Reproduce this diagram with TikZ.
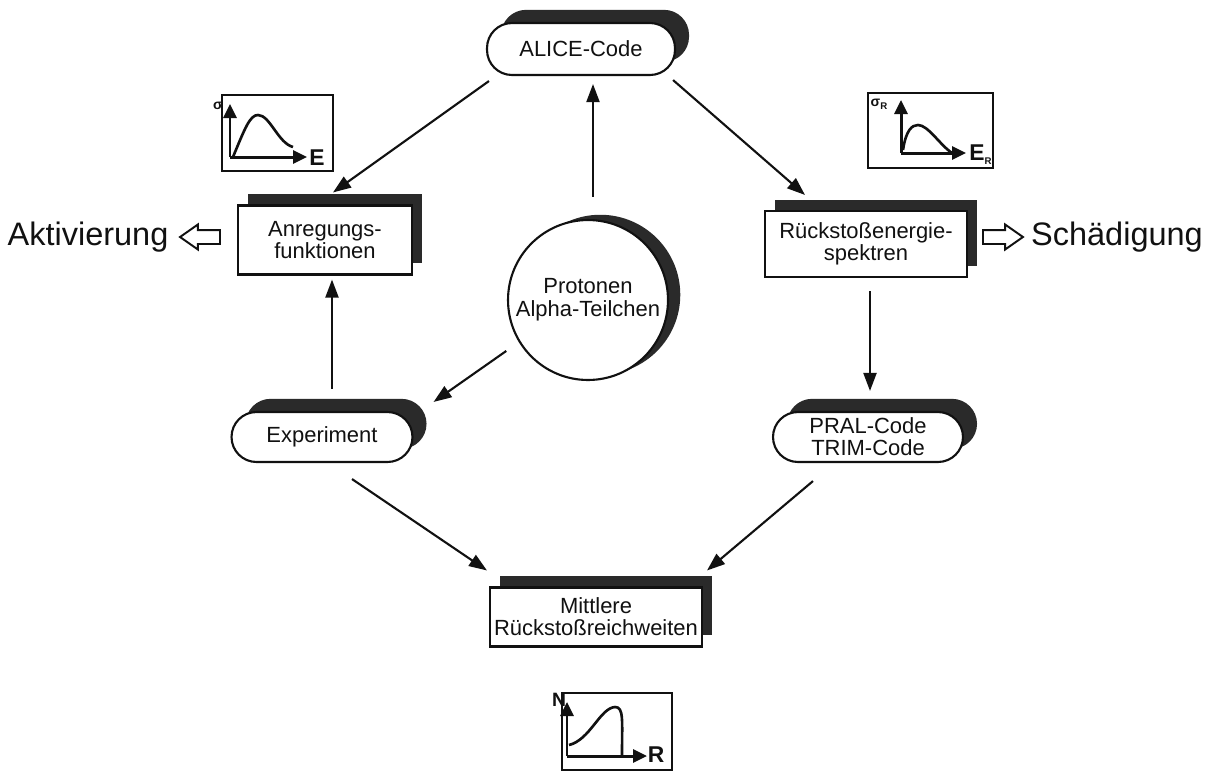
\documentclass[tikz,border=0pt]{standalone}
\usepackage{fontspec}
\setmainfont{Liberation Sans}
\usetikzlibrary{arrows.meta,positioning,calc,shadows,shapes.arrows}
\definecolor{ink}{HTML}{111111}
\definecolor{shade}{HTML}{2A2A2A}
\tikzset{
  base/.style={draw=ink, fill=white, line width=1.2pt, align=center, inner sep=2pt, text=ink, font={\fontsize{12.5}{12.5}\selectfont}},
  pill/.style={base, rounded corners=0.5cm, general shadow={fill=shade, shadow xshift=8pt, shadow yshift=7.5pt}},
  card/.style={base, general shadow={fill=shade, shadow xshift=5.5pt, shadow yshift=6.5pt}},
  ball/.style={base, circle, minimum size=3.2cm, font={\fontsize{12.5}{13}\selectfont}, general shadow={fill=shade, shadow xshift=7pt, shadow yshift=3pt}},
  conn/.style={-{Triangle[length=3.6mm,width=2.6mm]}, line width=1.2pt, draw=ink},
  hollow/.style={single arrow, draw=ink, fill=white, line width=1.1pt, inner sep=0pt, inner ysep=0.12cm, minimum height=0.8cm, single arrow head extend=0.11cm, single arrow tip angle=70},
  big/.style={font={\fontsize{18.5}{20}\selectfont}, text=ink, inner sep=0pt},
  frame/.style={draw=ink, line width=1.1pt},
  axis/.style={-{Triangle[length=2.8mm,width=2.6mm]}, line width=1.7pt, draw=ink},
  curve/.style={line width=1.5pt, draw=ink},
  axlab/.style={font={\bfseries\fontsize{13}{13}\selectfont}, text=ink, inner sep=0pt},
  sig/.style={font={\bfseries\fontsize{8}{8}\selectfont}, text=ink, inner sep=0pt},
}
\newcommand\tinysub[1]{\raisebox{-0.35ex}{\fontsize{5.5}{5.5}\selectfont #1}}

\begin{document}
\begin{tikzpicture}[x=0.02cm,y=-0.02cm]
  \useasboundingbox (0,0) rectangle (1211,772);
  % nodes
  \node[pill, minimum width=3.76cm, minimum height=1.04cm] (alice) at (581,49) {ALICE-Code};
  \node[card, minimum width=3.48cm, minimum height=1.38cm] (anr) at (325,240) {Anregungs-\\funktionen};
  \node[card, minimum width=4.04cm, minimum height=1.32cm] (rueck) at (866,244) {Rückstoßenergie-\\spektren};
  \node[ball] (circ) at (588,300) {Protonen\\Alpha-Teilchen};
  \node[pill, minimum width=3.62cm, minimum height=1.0cm] (exp) at (322,437) {Experiment};
  \node[pill, minimum width=3.8cm, minimum height=1.0cm] (pral) at (868,437) {PRAL-Code\\TRIM-Code};
  \node[card, minimum width=4.24cm, minimum height=1.18cm] (mitt) at (596,617) {Mittlere\\Rückstoßreichweiten};
  \node[big] (akt) at (88,237) {Aktivierung};
  \node[big] (schad) at (1117,237) {Schädigung};
  \node[hollow, shape border rotate=180] (aktarr) at (205,237) {};
  \node[hollow] (schadarr) at (998,237) {};
  % connectors
  \draw[conn] ([shift={(3,5)}]alice.south west) -- ([shift={(8,-12)}]anr.north);
  \draw[conn] ([shift={(-3,4)}]alice.south east) -- ([shift={(-61,-15)}]rueck.north);
  \draw[conn] ([shift={(5,-22)}]circ.north) -- ([shift={(12,8)}]alice.south);
  \draw[conn] ([shift={(10,-22)}]exp.north) -- ([shift={(7,4)}]anr.south);
  \draw[conn] ([shift={(-13,8)}]circ.212) -- ([shift={(20,-9)}]exp.north east);
  \draw[conn] ([shift={(4,13)}]rueck.south) -- ([shift={(2,-20)}]pral.north);
  \draw[conn] ([shift={(30,16)}]exp.south) -- ([shift={(-2,-16)}]mitt.north west);
  \draw[conn] ([shift={(-55,18)}]pral.south) -- ([shift={(4,-16)}]mitt.north east);
  % sigma over E
  \draw[frame] (222,95) rectangle (333,171);
  \draw[axis] (230,157) -- (230,104);
  \draw[axis] (230,157) -- (307,157);
  \draw[curve] (233,157) .. controls (245,128) and (250,115) .. (258,115) .. controls (270,115) and (278,143) .. (293,147);
  \node[sig] (s1) at (218,106) {σ};
  \node[axlab] (e1) at (317,158) {E};
  % sigma_R over E_R
  \draw[frame] (868,93) rectangle (993,168);
  \draw[axis] (901,153) -- (901,100);
  \draw[axis] (901,153) -- (966,153);
  \draw[curve] (903,150) .. controls (906,130) and (912,125) .. (918,125) .. controls (928,125) and (940,145) .. (952,153);
  \node[sig] (s2) at (879,104) {σ\tinysub{R}};
  \node[axlab, anchor=west] (e2) at (969,155) {E\tinysub{R}};
  % N over R
  \draw[frame] (562,693) rectangle (672,770);
  \draw[axis] (567,756) -- (567,702);
  \draw[axis] (567,756) -- (647,756);
  \draw[curve] (569,745) .. controls (590,740) and (600,708) .. (615,707) .. controls (624,707) and (622,720) .. (622,756);
  \node[axlab, font={\bfseries\fontsize{11}{11}\selectfont}] (n3) at (559,700) {N};
  \node[axlab] (r3) at (656,755) {R};
\end{tikzpicture}
\end{document}
